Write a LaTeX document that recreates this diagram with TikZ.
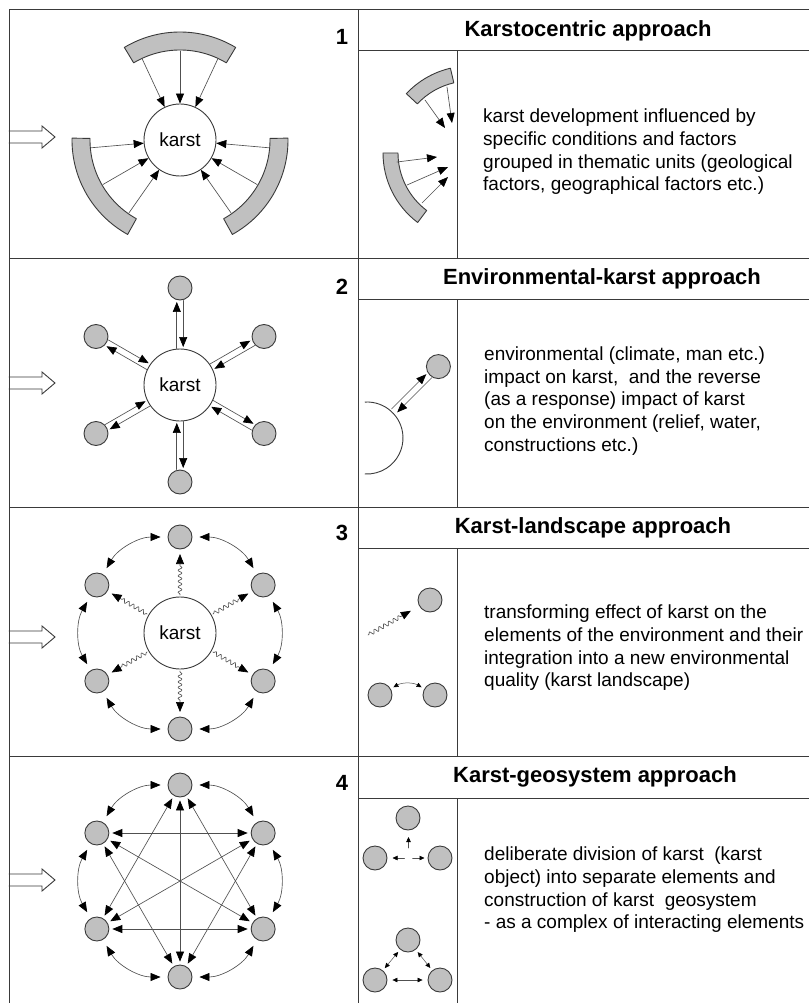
\documentclass[tikz,border=0pt]{standalone}
\usepackage{fontspec}
\setmainfont{Liberation Sans}
\usepackage{tikz}
\usetikzlibrary{arrows.meta,calc,decorations.pathmorphing}
\definecolor{ink}{HTML}{3A3A3A}
\definecolor{shade}{HTML}{C0C0C0}
\definecolor{wire}{HTML}{505050}
\newcommand{\bodysize}{\fontsize{19}{22.7}\selectfont}
\newcommand{\headsize}{\fontsize{22}{26}\selectfont\bfseries}
\tikzset{
    every picture/.style={line cap=round,line join=round},
    karstnode/.style={circle,draw=ink,fill=white,line width=0.9pt,
      minimum size=72pt,inner sep=0pt,font=\bodysize},
    elemnode/.style={circle,draw=ink,fill=shade,line width=0.9pt,
      minimum size=24pt,inner sep=0pt},
    sectorband/.style={draw=ink,fill=shade,line width=0.9pt},
    gridline/.style={draw=ink,line width=1pt,line cap=butt},
    entryarrow/.style={draw=ink,fill=white,line width=0.9pt,line join=miter},
    flowarrow/.style={-{Triangle[length=10pt,width=8pt,color=black]},draw=wire,
      line width=0.65pt},
    twoway/.style={{Triangle[length=10pt,width=8pt,color=black]}-{Triangle[length=10pt,width=8pt,color=black]},
      draw=wire,line width=0.65pt},
    smallarrow/.style={-{Triangle[length=5pt,width=4.5pt,color=black]},draw=wire,
      line width=0.5pt},
    smalltwoway/.style={{Triangle[length=5pt,width=4.5pt,color=black]}-{Triangle[length=5pt,width=4.5pt,color=black]},
      draw=wire,line width=0.5pt},
    wavearrow/.style={-{Triangle[length=10pt,width=8pt,color=black]},draw=wire,
      line width=0.65pt,decorate,
      decoration={snake,amplitude=2pt,segment length=5.5pt,pre length=1pt,post length=10pt}},
    titletext/.style={font=\headsize,inner sep=0pt},
    rownumber/.style={font=\headsize,inner sep=0pt},
    bodytext/.style={font=\bodysize,align=left,anchor=west,inner sep=0pt}
}

\begin{document}
\begin{tikzpicture}[x=1pt,y=1pt]
  \useasboundingbox (0,0) rectangle (809,-1003);
  \foreach \yy in {137,383,637,880}
    \draw[entryarrow] (9,{-\yy+6}) -- (42,{-\yy+6}) -- (42,{-\yy+11}) -- (55,-\yy)
      -- (42,{-\yy-11}) -- (42,{-\yy-6}) -- (9,{-\yy-6});
  \foreach \yy in {10,258,507,756} \draw[gridline] (9,-\yy) -- (809,-\yy);
  \foreach \yy in {51,299,548,798} \draw[gridline] (358,-\yy) -- (809,-\yy);
  \draw[gridline] (9,-10) -- (9,-1003);
  \draw[gridline] (358,-10) -- (358,-1003);
  \foreach \ya/\yb in {51/258,299/507,548/756,798/1003}
    \draw[gridline] (457,-\ya) -- (457,-\yb);

  \node[rownumber] (n1) at (342,-37) {1};
  \node[rownumber] (n2) at (342,-287) {2};
  \node[rownumber] (n3) at (342,-533) {3};
  \node[rownumber] (n4) at (342,-783) {4};
  \node[titletext] (t1) at (588,-30.5) {Karstocentric approach};
  \node[titletext] (t2) at (602,-278.5) {Environmental-karst approach};
  \node[titletext] (t3) at (593,-527.5) {Karst-landscape approach};
  \node[titletext] (t4) at (595,-777) {Karst-geosystem approach};
  \node[bodytext] (d1) at (483,-152) {karst development influenced by\\
    specific conditions and factors\\grouped in thematic units (geological\\
    factors, geographical factors etc.)};
  \node[bodytext] (d2) at (484,-401) {environmental (climate, man etc.)\\
    impact on karst,\ \ and the reverse\\(as a response) impact of karst\\
    on the environment (relief, water,\\constructions etc.)};
  \node[bodytext] (d3) at (484,-648) {transforming effect of karst on the\\
    elements of the environment and their\\integration into a new environmental\\
    quality (karst landscape)};
  \node[bodytext] (d4) at (484,-890) {deliberate division of karst\ \ (karst\\
    object) into separate elements and\\construction of karst\ \ geosystem\\
    - as a complex of interacting elements};

  \node[karstnode] (k1) at (180,-140) {karst};
  \foreach \c in {90,210,330}{
    \draw[sectorband] ($(k1)+(\c-31:90)$) arc[start angle=\c-31,end angle=\c+31,radius=90]
      -- ($(k1)+(\c+31:108)$) arc[start angle=\c+31,end angle=\c-31,radius=108] -- cycle;
    \foreach \d in {-25,0,25} \draw[flowarrow] ($(k1)+(\c+\d:89)$) -- (k1);
  }
  \coordinate (m1) at (470,-153);
  \draw[sectorband] ($(m1)+(103:72)$) arc[start angle=103,end angle=137,radius=72]
    -- ($(m1)+(137:87)$) arc[start angle=137,end angle=103,radius=87] -- cycle;
  \draw[sectorband] ($(m1)+(180:72)$) arc[start angle=180,end angle=233,radius=72]
    -- ($(m1)+(233:87)$) arc[start angle=233,end angle=180,radius=87] -- cycle;
  \draw[flowarrow] ($(m1)+(-45,53)$) -- ($(m1)+(-25,25)$);
  \draw[flowarrow] ($(m1)+(-23,66)$) -- ($(m1)+(-18,30)$);
  \draw[flowarrow] ($(m1)+(-73,-9)$) -- ($(m1)+(-33,-4)$);
  \draw[flowarrow] ($(m1)+(-63,-32)$) -- ($(m1)+(-22,-14)$);
  \draw[flowarrow] ($(m1)+(-48,-50)$) -- ($(m1)+(-22,-24)$);

  \node[karstnode] (k2) at (180,-385) {karst};
  \foreach \a in {30,90,...,330}{
    \node[elemnode] (s2-\a) at ($(k2)+(\a:97)$) {};
    \draw[flowarrow,shorten >=1.5pt,transform canvas={shift={(\a+90:3.2)}}] (k2) -- (s2-\a);
    \draw[flowarrow,shorten >=1.5pt,transform canvas={shift={(\a-90:3.2)}}] (s2-\a) -- (k2);
  }
  \coordinate (m2) at (367,-438);
  \draw[ink,line width=0.9pt] ($(m2)+(93:36)$) arc[start angle=93,end angle=-93,radius=36];
  \node[elemnode] (m2s) at ($(m2)+(45:101)$) {};
  \draw[flowarrow,shorten >=1.5pt,transform canvas={shift={(135:3.2)}}] ($(m2)+(45:38)$) -- (m2s);
  \draw[flowarrow,shorten >=1.5pt,transform canvas={shift={(-45:3.2)}}] (m2s) -- ($(m2)+(45:38)$);

  \node[karstnode] (k3) at (180,-633) {karst};
  \foreach \a in {30,90,...,330}
    \node[elemnode] (s3-\a) at ($(k3)+(\a:96)$) {};
  \foreach \a in {30,90,...,330}{
    \pgfmathtruncatemacro\b{mod(\a+60,360)}
    \draw[wavearrow] ($(k3)!38pt!(s3-\a)$) -- ($(k3)!79pt!(s3-\a)$);
    \draw[twoway,shorten <=7pt,shorten >=7pt] (s3-\a) to[bend right=30] (s3-\b);
  }
  \node[elemnode] (m3a) at (430,-600) {};
  \coordinate (m3w) at (368,-635);
  \draw[wavearrow] (m3w) -- ($(m3a)!22pt!(m3w)$);
  \node[elemnode] (m3b) at (380,-695) {};
  \node[elemnode] (m3c) at (435,-695) {};
  \draw[smalltwoway,shorten <=3pt,shorten >=3pt] (m3b) to[bend left=30] (m3c);

  \coordinate (c4) at (180,-881);
  \foreach \a in {30,90,...,330}
    \node[elemnode] (s4-\a) at ($(c4)+(\a:96)$) {};
  \foreach \a in {30,90,...,330}{
    \pgfmathtruncatemacro\b{mod(\a+60,360)}
    \draw[twoway,shorten <=7pt,shorten >=7pt] (s4-\a) to[bend right=30] (s4-\b);
  }
  \foreach \p/\q in {30/150,30/210,30/270,90/210,90/270,90/330,150/270,150/330,210/330}
    \draw[twoway,shorten <=3pt,shorten >=3pt] (s4-\p) -- (s4-\q);
  \node[elemnode] (m4a) at (408,-818) {};
  \node[elemnode] (m4b) at (375,-858) {};
  \node[elemnode] (m4c) at (440,-858) {};
  \coordinate (m4o) at (408.5,-858);
  \draw[smallarrow] ($(m4o)+(0,10)$) -- ($(m4o)+(0,21)$);
  \draw[smallarrow] ($(m4o)+(-4,0)$) -- ($(m4o)+(-16,0)$);
  \draw[smallarrow] ($(m4o)+(4,0)$) -- ($(m4o)+(16,0)$);
  \node[elemnode] (m4d) at (408,-940) {};
  \node[elemnode] (m4e) at (375,-980) {};
  \node[elemnode] (m4f) at (440,-980) {};
  \draw[smalltwoway,shorten <=3pt,shorten >=3pt] (m4d) -- (m4e);
  \draw[smalltwoway,shorten <=3pt,shorten >=3pt] (m4d) -- (m4f);
  \draw[smalltwoway,shorten <=5pt,shorten >=5pt] (m4e) -- (m4f);
\end{tikzpicture}
\end{document}
